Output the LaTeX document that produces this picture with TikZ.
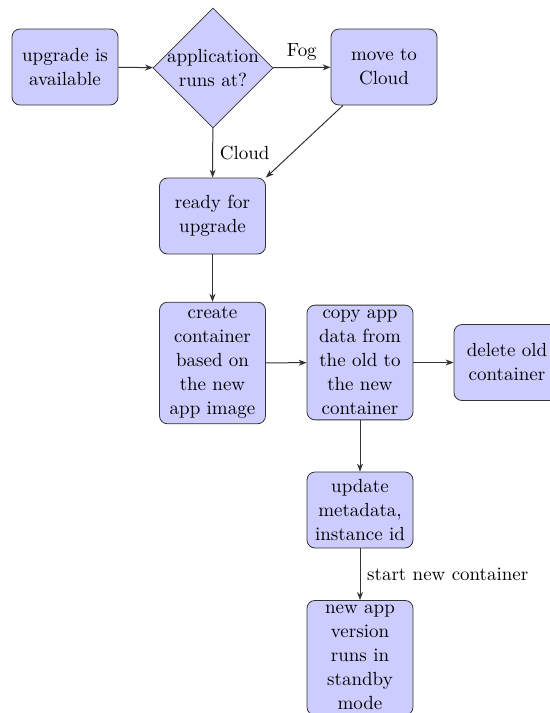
\documentclass[tikz,border=0pt]{standalone}
\usetikzlibrary{shapes.geometric,arrows.meta}
\begin{document}
\begin{tikzpicture}[x=0.5pt,y=-0.5pt,
  every node/.style={font=\fontsize{9.5}{12}\selectfont},
  box/.style={draw=black!80, fill=blue!20, rounded corners=4pt, align=center,
    text width=48pt, inner sep=2.5pt, minimum height=38pt},
  decision/.style={draw=black!80, fill=blue!20, shape=diamond, align=center,
    inner sep=-2pt, minimum width=60pt, minimum height=60pt},
  conn/.style={draw=black!80, line width=0.5pt, -{Stealth[length=4pt,width=3pt]}}]
\useasboundingbox (0,0) rectangle (550,713);
\clip (0,0) rectangle (550,713);
\node[box] (up) at (65,67) {upgrade is\\available};
\node[decision] (dia) at (213,68) {application\\runs at?};
\node[box] (move) at (384,67) {move to\\Cloud};
\node[box] (ready) at (212.5,216) {ready for\\upgrade};
\node[box] (create) at (212.5,363) {create\\container\\based on\\the new\\app image};
\node[box] (copy) at (360,362.5) {copy app\\data from\\the old to\\the new\\container};
\node[box] (del) at (507,362.5) {delete old\\container};
\node[box] (upd) at (360,510) {update\\metadata,\\instance id};
\node[box, anchor=north] (new) at (360,600) {new app\\version\\runs in\\standby\\mode};
\draw[conn] (up) -- (dia);
\draw[conn] (dia) -- node[above] (fog) {Fog} (move);
\draw[conn] (dia) -- node[right] (cloud) {Cloud} (ready);
\draw[conn] (move) -- (ready.north east);
\draw[conn] (ready) -- (create);
\draw[conn] (create) -- (copy);
\draw[conn] (copy) -- (del);
\draw[conn] (copy) -- (upd);
\draw[conn] (upd) -- node[right] (start) {start new container} (new);
\end{tikzpicture}
\end{document}
